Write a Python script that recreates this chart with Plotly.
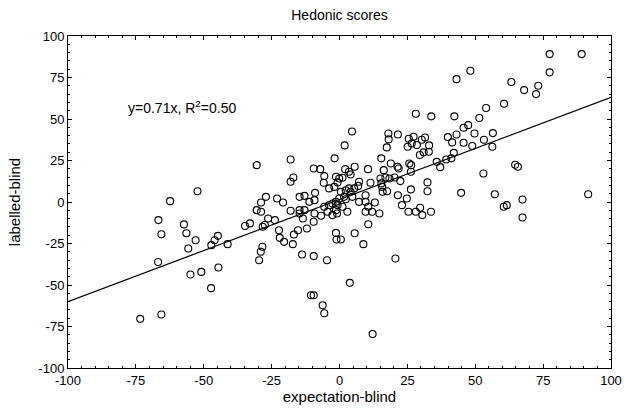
import plotly.graph_objects as go

# expectation-blind (x) and labelled-blind (y) values
x_vals = [43.1, 48.2, 28.1, 33.8, 42.3, 4.6, 1.9, 18.0, 18.1, 21.5, 17.4, 25.5, 27.3, 30.3, 31.5,
          25.1, 28.5, 26.6, 33.0, 39.9, 43.1, 45.7, 47.4, 41.5, 45.7, 48.9, 49.7,
          77.4, 89.2, 77.4, 63.3, 68.0, 73.2, 72.4, 60.6, 54.0, 51.5, 56.5, 53.2, 56.3,
          64.7, 65.7, 53.0, 57.2, 91.6, 67.4, 60.5, 61.6, 67.4,
          15.4, -1.8, 42.1, 41.2, 39.3, 37.1, 35.8, 5.6, 2.1, 3.5, 4.1, 10.5, 18.9, 21.4, 21.8,
          25.7, 26.4, 26.3, 16.3, 15.1, 16.9, 18.4, 20.3, 15.4, 15.7, 17.5, 15.9, 22.4, 11.4,
          7.2, 6.9, 5.4, 3.5, -1.3, -0.1, 1.1, -0.7, -1.9, 0.5, 2.3, 4.1, 4.7, 1.7, -0.1,
          -1.3, 2.3, -2.6, -0.7, 1.1, 2.9, -1.3, -2.6, 7.2, 9.6, 9.6, 13.0, 10.6, 9.6, 12.0,
          14.7, 21.5, 24.8, 26.3, 23.0, 25.4, 28.1, 29.7, 30.5, 33.7, 32.4, 32.4, 44.8,
          10.6, 5.6, -1.3, -1.1, 0.5, 8.8, 20.6, 31.0, 29.6, 32.9,
          -30.5, -18.0, -9.5, -7.1, -5.6, -17.0, -18.0, -5.8, -3.8, -23.0, -20.8, -27.1,
          -28.9, -14.7, -12.9, -9.0, -11.1, -9.2, -18.0, -14.7, -12.9, -30.5, -28.9, -26.3,
          -23.8, -27.5, -28.3, -34.8, -33.0, -14.7, -13.5, -9.2, -9.5, -6.8, -5.6, -3.8,
          -0.9, -4.4, -22.3, -22.0, -20.4, -16.8, -15.3, -12.0, -17.2, -44.8, -46.0, -47.2,
          -41.2, -28.4, -29.0, -13.8, -9.5, -4.6, -29.6, -52.3,
          -62.4, -66.7, -65.6, -57.3, -56.4, -53.0, -55.7, -66.8, -54.9, -50.9, -73.4, -65.6,
          -44.6, -47.3, -10.5, -9.5, -6.2, -5.6, 3.8, 12.2]
y_vals = [74.0, 79.1, 53.2, 51.6, 51.6, 42.5, 34.1, 41.3, 37.7, 40.7, 32.9, 38.1, 39.3, 37.5, 38.9,
          33.3, 34.3, 35.3, 34.1, 39.1, 40.7, 44.7, 46.3, 35.9, 35.7, 33.7, 41.3,
          89.1, 89.1, 78.1, 72.3, 67.4, 70.0, 65.0, 59.2, 56.6, 50.6, 41.5, 37.5, 33.3,
          22.4, 21.2, 17.2, 4.7, 4.7, 1.5, -2.9, -1.9, -9.3,
          26.3, 26.3, 29.6, 26.3, 25.6, 21.0, 24.2, 21.2, 19.8, 18.2, 16.6, 19.8, 23.2, 21.2, 20.2,
          23.2, 22.2, 18.2, 19.2, 14.2, 14.8, 14.2, 14.8, 11.2, 9.1, 6.5, 6.1, 12.6, 11.6,
          12.2, 9.7, 8.2, 8.2, 15.2, 14.2, 14.6, 11.8, 9.1, 6.1, 7.1, 6.1, 3.1, 3.1, 2.1,
          0.1, 1.7, -0.9, -1.9, -2.9, -5.9, -4.9, -7.9, 0.1, 4.1, 0.1, -0.3, -2.9, -5.9, -5.9,
          -6.9, 4.1, 2.1, 7.6, -1.9, -5.9, -5.9, -3.5, -7.9, -5.9, 11.8, 6.5, 5.5,
          -13.4, -18.8, -18.6, -22.6, -22.6, -25.4, -34.0, 29.9, 28.3, 30.3,
          22.2, 25.6, 20.2, 19.8, 15.6, 14.8, 12.2, 11.6, 8.2, 2.1, -0.3, 3.1,
          -0.3, 3.1, 3.7, 5.5, 0.1, 1.1, -5.3, -4.9, -4.9, -4.9, -5.9, -9.9,
          -10.9, -13.9, -14.9, -14.5, -12.9, -6.9, -9.9, -6.9, -11.9, -8.3, -2.9, -1.9,
          -6.9, -5.9, -17.0, -21.6, -24.0, -19.6, -17.0, -16.0, -25.4, -20.4, -23.0, -26.0,
          -25.4, -27.0, -30.0, -31.6, -32.6, -35.1, -35.1, 6.5,
          0.5, -10.9, -19.4, -13.5, -18.8, -23.0, -28.0, -36.1, -43.7, -42.1, -70.4, -67.8,
          -39.5, -51.9, -56.2, -56.2, -62.2, -67.0, -48.7, -79.5]

# fitted line endpoints as drawn
line_x = [-100, 100]
line_y = [-60, 63]

tick_vals = [-100, -75, -50, -25, 0, 25, 50, 75, 100]
tick_text = ["-100", "-75", "-50", "-25", "0", "25", "50", "75", "100"]

fig = go.Figure()
fig.add_trace(go.Scatter(x=x_vals, y=y_vals, mode="markers",
                         marker=dict(symbol="circle-open", size=7, color="black",
                                     line=dict(width=1.1, color="black")),
                         showlegend=False, hoverinfo="skip"))
fig.add_trace(go.Scatter(x=line_x, y=line_y, mode="lines",
                         line=dict(color="black", width=1.2),
                         showlegend=False, hoverinfo="skip"))

axis_common = dict(range=[-100, 100], tickvals=tick_vals, ticktext=tick_text,
                   ticks="inside", ticklen=4, tickwidth=1, tickcolor="black",
                   showline=True, linecolor="black", linewidth=1, mirror="ticks",
                   showgrid=False, zeroline=False,
                   minor=dict(ticks="inside", dtick=5, ticklen=2, tickcolor="black", showgrid=False),
                   tickfont=dict(size=13, color="black"))

fig.update_layout(
    width=634, height=414,
    margin=dict(l=68, r=18, t=36, b=46),
    paper_bgcolor="white", plot_bgcolor="white",
    font=dict(family="Liberation Sans, Arial, sans-serif", color="black", size=13),
    title=dict(text="Hedonic scores", x=0.5, xref="paper", xanchor="center",
               y=0.975, yanchor="top", font=dict(size=14)),
    xaxis=dict(title=dict(text="expectation-blind", font=dict(size=15), standoff=3), **axis_common),
    yaxis=dict(title=dict(text="labelled-blind", font=dict(size=15), standoff=14), **axis_common),
    annotations=[dict(x=-78.5, y=57.5, xref="x", yref="y", xanchor="left", yanchor="middle",
                      text="y=0.71x, R<sup>2</sup>=0.50", showarrow=False,
                      font=dict(size=14, color="black"))],
)

fig.write_html("out.html")
